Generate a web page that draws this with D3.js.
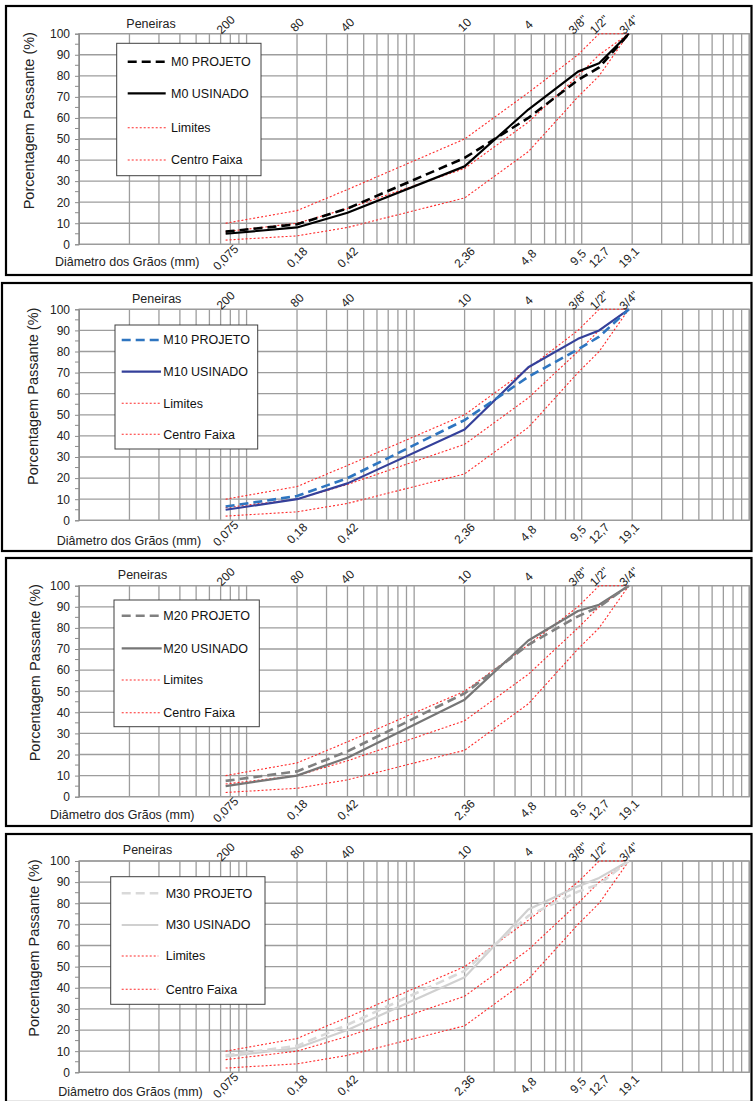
<!DOCTYPE html>
<html>
<head>
<meta charset="utf-8">
<script src="https://cdn.jsdelivr.net/npm/d3@7"></script>
<style>
  html, body { margin: 0; padding: 0; background: #fff; }
  svg { display: block; }
  text { font-family: "Liberation Sans", Arial, sans-serif; }
</style>
</head>
<body>
<script>
// ---------------- DATA ----------------
const sieveLabels    = ["200", "80", "40", "10", "4", "3/8\"", "1/2\"", "3/4\""];
const diameterLabels = ["0,075", "0,18", "0,42", "2,36", "4,8", "9,5", "12,7", "19,1"];
const sieveSizesMm   = [0.075, 0.2, 0.4, 2.0, 4.8, 9.5, 12.7, 19.1];
const yTicks         = [0, 10, 20, 30, 40, 50, 60, 70, 80, 90, 100];

const limiteInferior = [2, 4, 8, 22, 44, 70, 80, 100];
const limiteSuperior = [10, 16, 26, 50, 72, 90, 100, 100];
const centroFaixa    = [6, 10, 17, 36, 58, 80, 90, 100];

const mixNames   = ["M0", "M10", "M20", "M30"];
const m0Projeto  = [6, 9.5, 17, 41, 60, 78, 84, 100];
const m0Usinado  = [5, 8, 15, 37, 64, 82, 86, 100];
const m10Projeto = [6.5, 11.5, 20, 47.5, 68, 81, 87, 100];
const m10Usinado = [5, 10, 17.5, 43, 72.5, 86, 90, 100];
const m20Projeto = [7.5, 12, 21.5, 49, 72, 85.5, 90, 100];
const m20Usinado = [5, 10, 18.5, 46, 74, 88, 91, 100];
const m30Projeto = [8, 12.5, 22.5, 48, 74, 85.5, 89, 100];
const m30Usinado = [7.5, 11.5, 20, 45, 77, 88, 92, 100];

// ---------------- LAYOUT / STYLE ----------------
const W = 753, H = 1101;
const panels = [
  { name: mixNames[0], proj: m0Projeto,  usin: m0Usinado,  projColor: "#000000", usinColor: "#000000",
    frameTop: 6, frameBottom: 275, frameLeft: 6, plotTop: 33.7, plotBottom: 244.3,
    legend: { x0: 116.7, x1: 261, y0: 43.3, y1: 175.7, rows: [61.7, 93.3, 127.7, 160], lx0: 127.7, lx1: 165.7, tx: 171 },
    penX: 151, penY: 23.5, diamX: 55, diamY: 261.5, yLabX: 29.3 },
  { name: mixNames[1], proj: m10Projeto, usin: m10Usinado, projColor: "#2e75c0", usinColor: "#34409a",
    frameTop: 283, frameBottom: 551, frameLeft: 2, plotTop: 309.3, plotBottom: 520.3,
    legend: { x0: 115, x1: 257.7, y0: 325, y1: 449, rows: [340, 371.7, 403.3, 434.3], lx0: 121.7, lx1: 161, tx: 163.3 },
    penX: 156.7, penY: 299, diamX: 56.7, diamY: 541, yLabX: 33.3 },
  { name: mixNames[2], proj: m20Projeto, usin: m20Usinado, projColor: "#808080", usinColor: "#767676",
    frameTop: 558, frameBottom: 826, frameLeft: 6, plotTop: 585.7, plotBottom: 796.7,
    legend: { x0: 114, x1: 259.3, y0: 600, y1: 726.7, rows: [615.7, 648.3, 680, 712.7], lx0: 121.7, lx1: 161.7, tx: 163.3 },
    penX: 142.5, penY: 575, diamX: 50, diamY: 815, yLabX: 34.7 },
  { name: mixNames[3], proj: m30Projeto, usin: m30Usinado, projColor: "#d9d9d9", usinColor: "#d0d0d0",
    frameTop: 834, frameBottom: 1102, frameLeft: 6, plotTop: 861, plotBottom: 1072.3,
    legend: { x0: 110.7, x1: 265, y0: 876.7, y1: 1004.3, rows: [893.3, 925, 956, 989.3], lx0: 121.7, lx1: 158.3, tx: 165.7 },
    penX: 147.5, penY: 850, diamX: 58.3, diamY: 1091.5, yLabX: 33.7 }
];
const plotLeft = 79, plotRight = 749.3, frameRight = 751.5;
const gridColor = "#9d9d9d";
const limitColor = "#ff2a2a";
const textColor = "#222222";

const svg = d3.select("body").append("svg")
  .attr("width", W).attr("height", H)
  .attr("viewBox", `0 0 ${W} ${H}`);

svg.append("rect").attr("width", W).attr("height", H).attr("fill", "#fff");

const x = d3.scaleLog().domain([0.01, 100]).range([plotLeft, plotRight]);

// vertical grid values for the log axis: 1..9 x 10^k
const vGrid = [];
for (let k = -2; k <= 1; k++) for (let n = 1; n <= 9; n++) vGrid.push(n * Math.pow(10, k));
vGrid.push(100);

panels.forEach(p => {
  const g = svg.append("g");
  const y = d3.scaleLinear().domain([0, 100]).range([p.plotBottom, p.plotTop]);

  // frame
  g.append("rect")
    .attr("x", p.frameLeft).attr("y", p.frameTop)
    .attr("width", frameRight - p.frameLeft).attr("height", p.frameBottom - p.frameTop)
    .attr("fill", "#fff").attr("stroke", "#000").attr("stroke-width", 2.2);

  // horizontal gridlines
  g.append("g").selectAll("line").data(yTicks).join("line")
    .attr("x1", plotLeft).attr("x2", plotRight)
    .attr("y1", d => y(d)).attr("y2", d => y(d))
    .attr("stroke", gridColor).attr("stroke-width", 1.3);

  // vertical gridlines
  g.append("g").selectAll("line").data(vGrid).join("line")
    .attr("x1", d => x(d)).attr("x2", d => x(d))
    .attr("y1", p.plotTop).attr("y2", p.plotBottom)
    .attr("stroke", gridColor).attr("stroke-width", 1.3);

  // plot border
  g.append("rect")
    .attr("x", plotLeft).attr("y", p.plotTop)
    .attr("width", plotRight - plotLeft).attr("height", p.plotBottom - p.plotTop)
    .attr("fill", "none").attr("stroke", gridColor).attr("stroke-width", 1.3);

  // y axis
  const yAxis = d3.axisLeft(y).tickValues(yTicks).tickSize(4).tickPadding(5);
  const ya = g.append("g").attr("transform", `translate(${plotLeft},0)`).call(yAxis);
  ya.select(".domain").attr("stroke", "#8c8c8c");
  ya.selectAll(".tick line").attr("stroke", "#8c8c8c");
  ya.selectAll("text").attr("font-size", 12).attr("fill", textColor)
    .attr("font-family", "'Liberation Sans', Arial, sans-serif");
  // minor ticks at 5s
  const minor = d3.range(5, 100, 10);
  g.append("g").selectAll("line").data(minor).join("line")
    .attr("x1", plotLeft - 4).attr("x2", plotLeft)
    .attr("y1", d => y(d)).attr("y2", d => y(d))
    .attr("stroke", "#8c8c8c").attr("stroke-width", 1);

  // limits and center
  const line = d3.line().x((d, i) => x(sieveSizesMm[i])).y(d => y(d));
  [limiteSuperior, limiteInferior, centroFaixa].forEach(arr => {
    g.append("path").datum(arr).attr("d", line)
      .attr("fill", "none").attr("stroke", limitColor)
      .attr("stroke-width", 1.1).attr("stroke-dasharray", "2,2");
  });

  // series
  g.append("path").datum(p.usin).attr("d", line)
    .attr("fill", "none").attr("stroke", p.usinColor).attr("stroke-width", 2.2)
    .attr("stroke-linejoin", "round");
  g.append("path").datum(p.proj).attr("d", line)
    .attr("fill", "none").attr("stroke", p.projColor).attr("stroke-width", 2.6)
    .attr("stroke-dasharray", "9,5");

  // top sieve labels (rotated 45 degrees, reading upward)
  g.append("g").selectAll("text").data(sieveLabels).join("text")
    .attr("x", (d, i) => x(sieveSizesMm[i]))
    .attr("y", p.plotTop - 9)
    .attr("transform", (d, i) => `rotate(-45 ${x(sieveSizesMm[i])} ${p.plotTop - 9})`)
    .attr("text-anchor", "middle").attr("dy", "0.35em")
    .attr("font-size", 12).attr("fill", textColor)
    .text(d => d);

  // bottom diameter labels
  g.append("g").selectAll("text").data(diameterLabels).join("text")
    .attr("x", (d, i) => x(sieveSizesMm[i]))
    .attr("y", p.plotBottom + 13)
    .attr("transform", (d, i) => `rotate(-45 ${x(sieveSizesMm[i])} ${p.plotBottom + 13})`)
    .attr("text-anchor", "middle").attr("dy", "0.35em")
    .attr("font-size", 12).attr("fill", textColor)
    .text(d => d);

  // axis titles
  g.append("text").attr("x", p.penX).attr("y", p.penY)
    .attr("text-anchor", "middle").attr("dy", "0.35em")
    .attr("font-size", 12.5).attr("fill", textColor).text("Peneiras");
  g.append("text").attr("x", p.diamX).attr("y", p.diamY)
    .attr("dy", "0.35em")
    .attr("font-size", 12.5).attr("fill", textColor).text("Diâmetro dos Grãos (mm)");
  g.append("text")
    .attr("transform", `translate(${p.yLabX},${p.plotTop + 87}) rotate(-90)`)
    .attr("text-anchor", "middle").attr("dy", "0.35em")
    .attr("font-size", 14.5).attr("fill", textColor).text("Porcentagem Passante (%)");

  // legend
  const L = p.legend;
  const lg = g.append("g");
  lg.append("rect").attr("x", L.x0).attr("y", L.y0)
    .attr("width", L.x1 - L.x0).attr("height", L.y1 - L.y0)
    .attr("fill", "#fff").attr("stroke", "#404040").attr("stroke-width", 1);
  const items = [
    { label: p.name + " PROJETO", color: p.projColor, w: 2.6, dash: "9,5" },
    { label: p.name + " USINADO", color: p.usinColor, w: 2.2, dash: null },
    { label: "Limites", color: limitColor, w: 1.1, dash: "2,2" },
    { label: "Centro Faixa", color: limitColor, w: 1.1, dash: "2,2" }
  ];
  items.forEach((it, i) => {
    const yy = L.rows[i];
    const ln = lg.append("line").attr("x1", L.lx0).attr("x2", L.lx1)
      .attr("y1", yy).attr("y2", yy)
      .attr("stroke", it.color).attr("stroke-width", it.w);
    if (it.dash) ln.attr("stroke-dasharray", it.dash);
    lg.append("text").attr("x", L.tx).attr("y", yy).attr("dy", "0.35em")
      .attr("font-size", 12.5).attr("fill", "#111").text(it.label);
  });
});
</script>
</body>
</html>
